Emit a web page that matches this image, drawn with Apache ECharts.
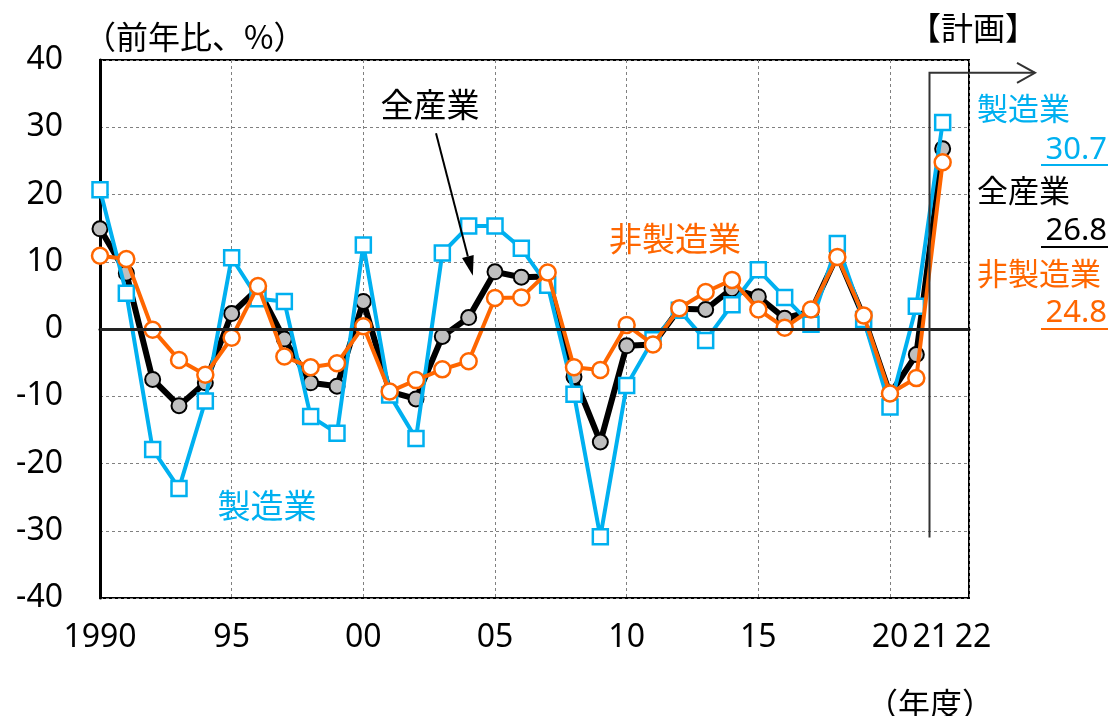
<!DOCTYPE html>
<html>
<head>
<meta charset="utf-8">
<script src="https://cdn.jsdelivr.net/npm/echarts@6/dist/echarts.min.js"></script>
<style>
html, body { margin: 0; padding: 0; background: #fff; }
#chart { width: 1108px; height: 716px; }
</style>
</head>
<body>
<div id="chart"></div>
<script>
// 設備投資計画 前年比（%）
const years = [1990, 1991, 1992, 1993, 1994, 1995, 1996, 1997, 1998, 1999,
               2000, 2001, 2002, 2003, 2004, 2005, 2006, 2007, 2008, 2009,
               2010, 2011, 2012, 2013, 2014, 2015, 2016, 2017, 2018, 2019,
               2020, 2021, 2022];
const allIndustries = [14.9, 8.3, -7.5, -11.4, -8.0, 2.3, 6.0, -1.5, -8.0, -8.5,
                       4.1, -9.3, -10.4, -1.1, 1.7, 8.5, 7.7, 7.8, -7.1, -16.8,
                       -2.5, -2.3, 3.0, 2.9, 6.0, 4.8, 1.6, 2.6, 11.0, 1.8,
                       -9.7, -3.8, 26.8];
const manufacturing = [20.7, 5.3, -17.9, -23.7, -10.7, 10.6, 4.5, 4.1, -13.0, -15.5,
                       12.5, -9.8, -16.3, 11.3, 15.3, 15.3, 12.0, 6.5, -9.7, -30.9,
                       -8.4, -1.6, 2.8, -1.7, 3.6, 8.8, 4.7, 0.7, 12.7, 1.4,
                       -11.6, 3.4, 30.7];
const nonManufacturing = [10.9, 10.4, -0.1, -4.6, -6.8, -1.3, 6.4, -4.1, -5.7, -5.1,
                          0.4, -9.3, -7.6, -6.0, -4.8, 4.6, 4.7, 8.4, -5.7, -6.1,
                          0.6, -2.3, 3.1, 5.5, 7.3, 2.9, 0.2, 2.9, 10.7, 2.0,
                          -9.6, -7.3, 24.8];
const xTickText = { 1990: '1990', 1995: '95', 2000: '00', 2005: '05', 2010: '10', 2015: '15', 2020: '20' };
const planYearText = ['21', '22'];
const seriesNames = ['全産業', '製造業', '非製造業'];
const unitText = '（前年比、%）';
const xUnitText = '（年度）';
const planText = '【計画】';

const NUM = '"Noto Sans", "Open Sans", sans-serif';
const JP = '"Noto Sans CJK JP", sans-serif';
const BLUE = '#00B0F0';
const ORANGE = '#FF6600';
const BLACK = '#000000';

const pairs = vals => years.map((y, i) => [y, vals[i]]);

const chart = echarts.init(document.getElementById('chart'), null, { renderer: 'canvas' });

chart.setOption({
  animation: false,
  backgroundColor: '#fff',
  grid: { left: 100, right: 139, top: 60, bottom: 118, show: true, borderColor: '#000', borderWidth: 2, backgroundColor: 'transparent' },
  xAxis: {
    type: 'value', min: 1990, max: 2023, interval: 5,
    axisLine: { show: true, lineStyle: { color: '#000', width: 3 } },
    axisTick: { show: false },
    axisLabel: {
      margin: 24, color: '#000', fontSize: 32, fontFamily: NUM,
      formatter: v => xTickText[v] || ''
    },
    splitLine: { show: true, lineStyle: { color: '#808080', width: 1, type: [3, 3] } }
  },
  yAxis: {
    type: 'value', min: -40, max: 40, interval: 10,
    axisLine: { show: true, lineStyle: { color: '#000', width: 3 } },
    axisTick: { show: false },
    axisLabel: { margin: 37, color: '#000', fontSize: 32, fontFamily: NUM },
    splitLine: { show: true, lineStyle: { color: '#808080', width: 1, type: [3, 3] } }
  },
  series: [
    {
      name: seriesNames[0], type: 'line', data: pairs(allIndustries), z: 2,
      symbol: 'circle', symbolSize: 15,
      lineStyle: { color: BLACK, width: 6 },
      itemStyle: { color: '#BFBFBF', borderColor: BLACK, borderWidth: 2 },
      markLine: {
        silent: true, symbol: ['none', 'none'], label: { show: false },
        lineStyle: { color: '#222', width: 3, type: 'solid' },
        data: [{ yAxis: 0 }]
      }
    },
    {
      name: seriesNames[1], type: 'line', data: pairs(manufacturing), z: 3,
      symbol: 'rect', symbolSize: 15,
      lineStyle: { color: BLUE, width: 4 },
      itemStyle: { color: '#fff', borderColor: BLUE, borderWidth: 2.5 }
    },
    {
      name: seriesNames[2], type: 'line', data: pairs(nonManufacturing), z: 4,
      symbol: 'circle', symbolSize: 16,
      lineStyle: { color: ORANGE, width: 4 },
      itemStyle: { color: '#fff', borderColor: ORANGE, borderWidth: 2.5 }
    }
  ]
});

// 注記・矢印・右側の計画値ラベル
const px = (x, y) => chart.convertToPixel({ gridIndex: 0 }, [x, y]);
const last = arr => arr[arr.length - 1];
const txt = (x, y, text, fill, font, align, vAlign) => ({
  type: 'text', x: x, y: y, z: 100,
  style: { text: text, fill: fill, font: font, align: align || 'center', verticalAlign: vAlign || 'middle' }
});

const graphics = [];

// 軸見出し
graphics.push(txt(84, 37, unitText, '#000', '32px ' + JP, 'left'));
graphics.push(txt(930, 704, xUnitText, '#000', '32px ' + JP));
graphics.push(txt(973, 28, planText, '#000', '32px ' + JP));

// 計画年度の目盛り文字
const p21 = px(2021.55, -40), p22 = px(2023.15, -40);
graphics.push(txt(p21[0], p21[1] + 40, planYearText[0], '#000', '32px ' + NUM));
graphics.push(txt(p22[0], p22[1] + 40, planYearText[1], '#000', '32px ' + NUM));

// 計画区分線と矢印
const planTop = px(2021.5, 38.1), planBottom = px(2021.5, -31);
graphics.push({
  type: 'polyline', z: 90,
  shape: { points: [[planBottom[0], planBottom[1]], [planTop[0], planTop[1]], [1035, planTop[1]]] },
  style: { stroke: '#333', lineWidth: 2, fill: null }
});
graphics.push({
  type: 'polyline', z: 90,
  shape: { points: [[1017, planTop[1] - 10], [1035, planTop[1]], [1017, planTop[1] + 10]] },
  style: { stroke: '#333', lineWidth: 2, fill: null }
});

// 系列名の注記
const aLabel = px(2002.53, 33.4);
graphics.push(txt(aLabel[0], aLabel[1], seriesNames[0], '#000', '33px ' + JP));
const nLabel = px(2011.84, 13.4);
graphics.push(txt(nLabel[0], nLabel[1], seriesNames[2], ORANGE, '33px ' + JP));
const mLabel = px(1996.34, -26.3);
graphics.push(txt(mLabel[0], mLabel[1], seriesNames[1], BLUE, '33px ' + JP));

// 全産業への指示矢印
const a0 = px(2002.76, 29.1), a1 = px(2004.16, 7.9);
const ang = Math.atan2(a1[1] - a0[1], a1[0] - a0[0]);
const headLen = 20, headW = 6;
const base = [a1[0] - headLen * Math.cos(ang), a1[1] - headLen * Math.sin(ang)];
graphics.push({
  type: 'line', z: 90,
  shape: { x1: a0[0], y1: a0[1], x2: base[0], y2: base[1] },
  style: { stroke: '#000', lineWidth: 2 }
});
graphics.push({
  type: 'polygon', z: 90,
  shape: { points: [
    [a1[0], a1[1]],
    [base[0] + headW * Math.sin(ang), base[1] - headW * Math.cos(ang)],
    [base[0] - headW * Math.sin(ang), base[1] + headW * Math.cos(ang)]
  ] },
  style: { fill: '#000' }
});

// 右側の計画値
const rightLabels = [
  { name: seriesNames[1], value: last(manufacturing), color: BLUE, yName: 108, yVal: 150, yLine: 165 },
  { name: seriesNames[0], value: last(allIndustries), color: BLACK, yName: 190, yVal: 231, yLine: 247 },
  { name: seriesNames[2], value: last(nonManufacturing), color: ORANGE, yName: 273, yVal: 313, yLine: 329 }
];
rightLabels.forEach(r => {
  graphics.push(txt(977, r.yName, r.name, r.color, '31px ' + JP, 'left'));
  graphics.push(txt(1107, r.yVal, r.value.toFixed(1), r.color, '31px ' + NUM, 'right'));
  graphics.push({
    type: 'line', z: 90,
    shape: { x1: 1041, y1: r.yLine, x2: 1108, y2: r.yLine },
    style: { stroke: r.color, lineWidth: 2 }
  });
});

chart.setOption({ graphic: { elements: graphics } });
</script>
</body>
</html>
